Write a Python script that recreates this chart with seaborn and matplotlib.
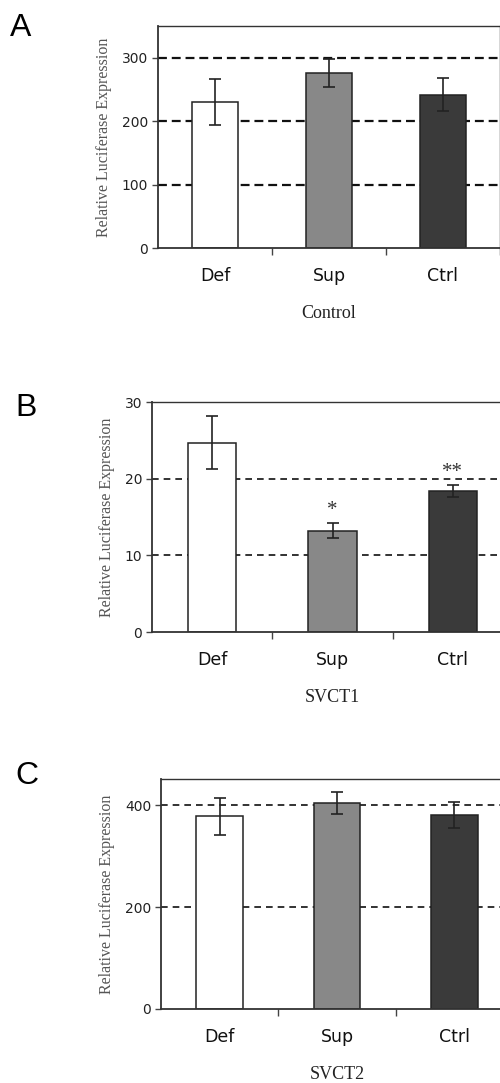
import numpy as np
import pandas as pd
import seaborn as sns
import matplotlib.pyplot as plt

groups = ["Def", "Sup", "Ctrl"]
bar_colors = ["#ffffff", "#888888", "#3a3a3a"]

control_vals = [230, 276, 242]
control_err = [36, 22, 26]

svct1_vals = [24.7, 13.2, 18.4]
svct1_err = [3.45, 1.0, 0.75]
svct1_marks = ["", "*", "**"]

svct2_vals = [378, 404, 380]
svct2_err = [36, 22, 26]

sns.set_style("white")
plt.rcParams['font.family'] = ['DejaVu Sans']

W, H = 500, 1083
fig = plt.figure(figsize=(W / 100, H / 100), dpi=100)

# panel boxes in pixels: left, top, right, bottom
panels = [
    dict(letter="A", box=(158, 26, 500, 248), vals=control_vals, err=control_err,
         ylim=350, yticks=[0, 100, 200, 300], xlabel="Control", marks=None,
         letter_xy=(10, 36), gridlw=1.6, dash=(4, 2.2)),
    dict(letter="B", box=(152, 402, 513, 632), vals=svct1_vals, err=svct1_err,
         ylim=30, yticks=[0, 10, 20, 30], xlabel="SVCT1", marks=svct1_marks,
         letter_xy=(15, 416), gridlw=1.2, dash=(4, 3)),
    dict(letter="C", box=(161, 779, 513, 1009), vals=svct2_vals, err=svct2_err,
         ylim=451, yticks=[0, 200, 400], xlabel="SVCT2", marks=None,
         letter_xy=(15, 784), gridlw=1.2, dash=(4, 3)),
]

for p in panels:
    l, t, r, b = p["box"]
    ax = fig.add_axes([l / W, 1 - b / H, (r - l) / W, (b - t) / H])
    df = pd.DataFrame({"group": groups, "value": p["vals"]})
    sns.barplot(data=df, x="group", y="value", hue="group", palette=bar_colors,
                width=0.4, edgecolor="#222222", linewidth=1.1, legend=False,
                ax=ax)
    for patch in ax.patches:
        patch.set_zorder(2)
    ax.errorbar(np.arange(len(groups)), p["vals"], yerr=p["err"], fmt="none",
                ecolor="#222222", elinewidth=1.2, capsize=4.3, capthick=1.2, zorder=3)

    if p["marks"]:
        for i, m in enumerate(p["marks"]):
            if m:
                ax.text(i, p["vals"][i] + p["err"][i] + 0.4, m, ha="center",
                        va="bottom", fontsize=15, family="Liberation Serif",
                        color="#333333")

    ax.set_xlim(-0.5, 2.5)
    ax.set_ylim(0, p["ylim"])
    ax.set_yticks(p["yticks"])
    for yv in p["yticks"][1:]:
        ax.axhline(yv, color="#111111", lw=p["gridlw"], ls=(0, p["dash"]), zorder=1)

    # tick marks between categories, labels at centres
    ax.set_xticks([0.5, 1.5, 2.5])
    ax.set_xticklabels([])
    ax.set_xticks([0, 1, 2], minor=True)
    ax.set_xticklabels(groups, minor=True, fontsize=12.5, color="#111111")
    ax.tick_params(axis="x", which="major", direction="out", length=5, width=1,
                   color="#444444", bottom=True)
    ax.tick_params(axis="x", which="minor", length=0, pad=14)
    ax.tick_params(axis="y", direction="out", length=4, width=1, color="#444444",
                   labelsize=10, labelcolor="#222222", pad=3, left=True)

    for s in ax.spines.values():
        s.set_color("#333333")
        s.set_linewidth(1.0)
    ax.spines["left"].set_linewidth(1.3)
    ax.spines["bottom"].set_linewidth(1.3)

    ax.set_xlabel(p["xlabel"], family="Liberation Serif", fontsize=13,
                  color="#222222", labelpad=14)
    ax.set_ylabel("Relative Luciferase Expression", family="Liberation Serif",
                  fontsize=11.5, color="#555555", labelpad=7)

    fig.text(p["letter_xy"][0] / W, 1 - p["letter_xy"][1] / H, p["letter"],
             fontsize=23, family="Liberation Sans", color="black",
             ha="left", va="baseline")

fig.savefig("out.png", dpi=100, facecolor="white")
